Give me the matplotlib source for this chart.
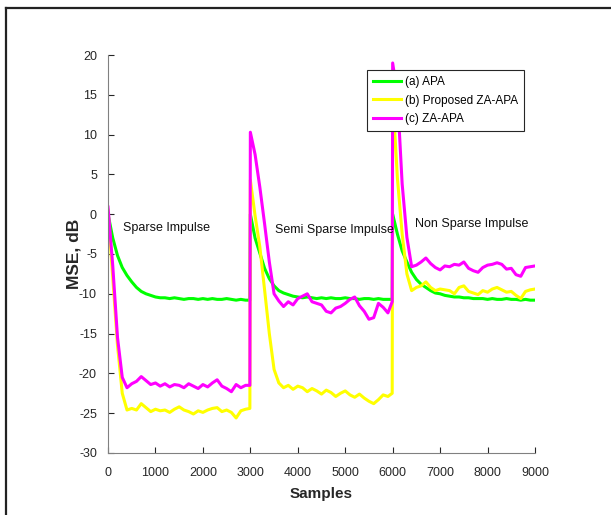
import matplotlib.pyplot as plt
from matplotlib.lines import Line2D

plt.rcParams['font.family'] = ['Liberation Sans', 'DejaVu Sans']
plt.rcParams['axes.unicode_minus'] = False

# sample positions (extra point just before each impulse change)
samples = [0, 100, 200, 300, 400, 500, 600, 700, 800, 900,
           1000, 1100, 1200, 1300, 1400, 1500, 1600, 1700, 1800, 1900,
           2000, 2100, 2200, 2300, 2400, 2500, 2600, 2700, 2800, 2900, 2990,
           3000, 3100, 3200, 3300, 3400, 3500, 3600, 3700, 3800, 3900,
           4000, 4100, 4200, 4300, 4400, 4500, 4600, 4700, 4800, 4900,
           5000, 5100, 5200, 5300, 5400, 5500, 5600, 5700, 5800, 5900, 5990,
           6000, 6100, 6200, 6300, 6400, 6500, 6600, 6700, 6800, 6900,
           7000, 7100, 7200, 7300, 7400, 7500, 7600, 7700, 7800, 7900,
           8000, 8100, 8200, 8300, 8400, 8500, 8600, 8700, 8800, 8900, 9000]

mse_apa = [0.0, -3.0, -5.2, -6.7, -7.7, -8.5, -9.2, -9.7, -10.0, -10.2,
           -10.4, -10.5, -10.5, -10.6, -10.5, -10.6, -10.7, -10.6, -10.6, -10.7,
           -10.6, -10.7, -10.6, -10.7, -10.7, -10.6, -10.7, -10.8, -10.7, -10.8, -10.8,
           0.0, -3.0, -4.9, -6.8, -8.1, -9.0, -9.6, -9.9, -10.1, -10.3,
           -10.4, -10.5, -10.4, -10.5, -10.6, -10.5, -10.6, -10.5, -10.6, -10.6,
           -10.5, -10.6, -10.6, -10.7, -10.6, -10.6, -10.7, -10.6, -10.7, -10.7, -10.7,
           0.0, -2.5, -4.6, -6.0, -7.3, -8.2, -8.8, -9.2, -9.6, -9.9,
           -10.0, -10.2, -10.3, -10.4, -10.4, -10.5, -10.5, -10.6, -10.6, -10.6,
           -10.7, -10.6, -10.7, -10.7, -10.6, -10.7, -10.7, -10.8, -10.7, -10.8, -10.8]

mse_proposed = [0.5, -8.0, -16.5, -22.5, -24.6, -24.4, -24.6, -23.8, -24.3, -24.8,
                -24.5, -24.7, -24.6, -24.9, -24.5, -24.2, -24.6, -24.8, -25.1, -24.7,
                -24.9, -24.6, -24.4, -24.3, -24.8, -24.6, -24.9, -25.6, -24.7, -24.5, -24.4,
                4.3, -0.2, -4.1, -9.5, -15.0, -19.5, -21.2, -21.8, -21.5, -22.0,
                -21.6, -21.8, -22.3, -21.9, -22.2, -22.6, -22.1, -22.4, -22.9, -22.5,
                -22.2, -22.7, -23.0, -22.6, -23.1, -23.5, -23.8, -23.3, -22.7, -22.9, -22.5,
                15.0, 4.5, -2.5, -7.5, -9.6, -9.2, -9.0, -8.5, -9.2, -9.6,
                -9.4, -9.5, -9.6, -10.0, -9.2, -9.0, -9.7, -9.9, -10.1, -9.6,
                -9.8, -9.4, -9.2, -9.5, -9.8, -9.7, -10.2, -10.6, -9.7, -9.5, -9.4]

mse_za_apa = [0.9, -6.5, -15.5, -20.5, -21.8, -21.3, -21.0, -20.4, -20.9, -21.4,
              -21.2, -21.6, -21.3, -21.7, -21.4, -21.5, -21.8, -21.3, -21.6, -21.9,
              -21.4, -21.7, -21.2, -20.8, -21.6, -21.9, -22.3, -21.4, -21.8, -21.5, -21.5,
              10.3, 7.5, 3.4, -1.2, -6.0, -10.0, -10.9, -11.6, -11.0, -11.4,
              -10.6, -10.3, -10.0, -11.0, -11.2, -11.4, -12.2, -12.4, -11.8, -11.6,
              -11.2, -10.7, -10.4, -11.5, -12.2, -13.2, -13.0, -11.2, -11.7, -12.4, -11.0,
              19.0, 15.0, 3.8, -2.9, -6.6, -6.4, -6.0, -5.5, -6.2, -6.7,
              -7.0, -6.5, -6.6, -6.3, -6.4, -6.0, -6.8, -7.1, -7.3, -6.7,
              -6.4, -6.3, -6.1, -6.3, -6.9, -6.8, -7.6, -7.8, -6.7, -6.6, -6.5]

series_names = ['(a) APA', '(b) Proposed ZA-APA', '(c) ZA-APA']
region_labels = ['Sparse Impulse', 'Semi Sparse Impulse', 'Non Sparse Impulse']
region_pos = [(316, -1.7), (3520, -2.0), (6470, -1.2)]

fig = plt.figure(figsize=(6.11, 5.15), dpi=100)
ax = fig.add_axes([0.1768, 0.1204, 0.6988, 0.7728])

ax.plot(samples, mse_apa, color='#00ff00', lw=2.2, label=series_names[0])
ax.plot(samples, mse_proposed, color='#ffff00', lw=2.2, label=series_names[1])
ax.plot(samples, mse_za_apa, color='#ff00ff', lw=2.2, label=series_names[2])

for txt, (x, y) in zip(region_labels, region_pos):
    ax.text(x, y, txt, fontsize=9, color='#111111', va='center', ha='left')

ax.set_xlim(0, 9000)
ax.set_ylim(-30, 20)
ax.set_xticks(range(0, 9001, 1000))
ax.set_yticks(range(-30, 21, 5))
ax.tick_params(direction='in', length=4, width=0.8, colors='#262626', labelsize=9)
ax.tick_params(axis='x', pad=10)
ax.tick_params(axis='y', pad=8)
for s in ['top', 'right']:
    ax.spines[s].set_visible(False)
for s in ['left', 'bottom']:
    ax.spines[s].set_color('#808080')
    ax.spines[s].set_linewidth(0.8)

ax.set_xlabel('Samples', fontsize=11, fontweight='bold', color='#262626', labelpad=6)
ax.set_ylabel('MSE, dB', fontsize=12.5, fontweight='bold', color='#262626', labelpad=-2)

leg = ax.legend(loc='upper left', bbox_to_anchor=(0.607, 0.962), borderaxespad=0,
                fontsize=8.5, fancybox=False, framealpha=1, handlelength=2.4,
                handletextpad=0.3, labelspacing=0.55, borderpad=0.5)
leg.get_frame().set_edgecolor('#262626')
leg.get_frame().set_linewidth(0.8)

# outer frame of the picture (left and top edges)
fig.add_artist(Line2D([0.0098, 0.0098], [0.0, 0.9845], transform=fig.transFigure,
                      color='#222222', lw=1.6))
fig.add_artist(Line2D([0.0098, 1.0], [0.9845, 0.9845], transform=fig.transFigure,
                      color='#222222', lw=1.6))

fig.savefig('out.png', dpi=100)
